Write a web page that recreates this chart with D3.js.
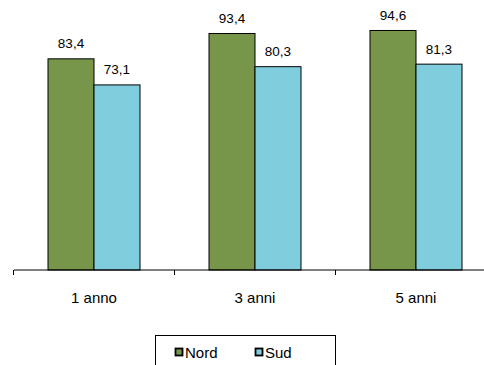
<!DOCTYPE html>
<html><head><meta charset="utf-8">
<script src="https://cdn.jsdelivr.net/npm/d3@7"></script>
<style>body{margin:0;background:#fff}svg{display:block}</style>
</head><body>
<svg id="c" width="484" height="365"></svg>
<script>
const categories = ["1 anno", "3 anni", "5 anni"];
const seriesNames = ["Nord", "Sud"];
const nord = [83.4, 93.4, 94.6];
const sud = [73.1, 80.3, 81.3];
const colors = ["#77964a", "#80cddd"];

const svg = d3.select("#c");
const font = "Liberation Sans, Arial, sans-serif";
const x0 = d3.scaleBand().domain(categories).range([13, 496]).paddingInner(0.4286).paddingOuter(0.2143);
const x1 = d3.scaleBand().domain(seriesNames).range([0, x0.bandwidth()]);
const y = d3.scaleLinear().domain([0, 100]).range([269.5, 16.3]);

const data = categories.map((c, i) => ({cat: c, vals: [nord[i], sud[i]]}));

const g = svg.append("g");
data.forEach(d => {
  d.vals.forEach((v, j) => {
    const xx = x0(d.cat) + x1(seriesNames[j]);
    g.append("rect")
      .attr("x", xx + 0.5).attr("y", y(v) + 0.5)
      .attr("width", x1.bandwidth()).attr("height", y(0) - y(v))
      .attr("fill", colors[j]).attr("stroke", "#000").attr("stroke-width", 1);
    g.append("text")
      .attr("x", xx + x1.bandwidth() / 2 + 0.5).attr("y", y(v) - 10)
      .attr("text-anchor", "middle").attr("font-family", font).attr("font-size", 13.5)
      .attr("fill", "#000").text(d3.format(".1f")(v).replace(".", ","));
  });
});

// axis
const axis = d3.axisBottom(d3.scaleLinear().domain([0,3]).range([13,496]))
  .tickValues([0,1,2,3]).tickSize(5).tickFormat("");
const ax = svg.append("g").attr("transform", "translate(0.5,270)").call(axis);
ax.select(".domain").attr("d", "M13.5,0H496").attr("stroke", "#000");
ax.selectAll(".tick line").attr("stroke", "#000");
ax.selectAll(".tick").attr("transform", d => `translate(${Math.round(13 + d*161)},0)`);

svg.append("g").selectAll("text").data(categories).join("text")
  .attr("x", d => x0(d) + x0.bandwidth() / 2 + 0.5).attr("y", 303)
  .attr("text-anchor", "middle").attr("font-family", font).attr("font-size", 15)
  .attr("fill", "#000").text(d => d);

// legend
const leg = svg.append("g");
leg.append("rect").attr("x", 155.5).attr("y", 335.5).attr("width", 180).attr("height", 40)
  .attr("fill", "#fff").attr("stroke", "#000");
const lx = [175, 255];
seriesNames.forEach((s, i) => {
  leg.append("rect").attr("x", lx[i] + 0.5).attr("y", 348.5).attr("width", 7).attr("height", 7)
    .attr("fill", colors[i]).attr("stroke", "#000").attr("stroke-width", 1.8);
  leg.append("text").attr("x", lx[i] + 10).attr("y", 358).attr("font-family", font)
    .attr("font-size", 15).attr("fill", "#000").text(s);
});
</script>
</body></html>
